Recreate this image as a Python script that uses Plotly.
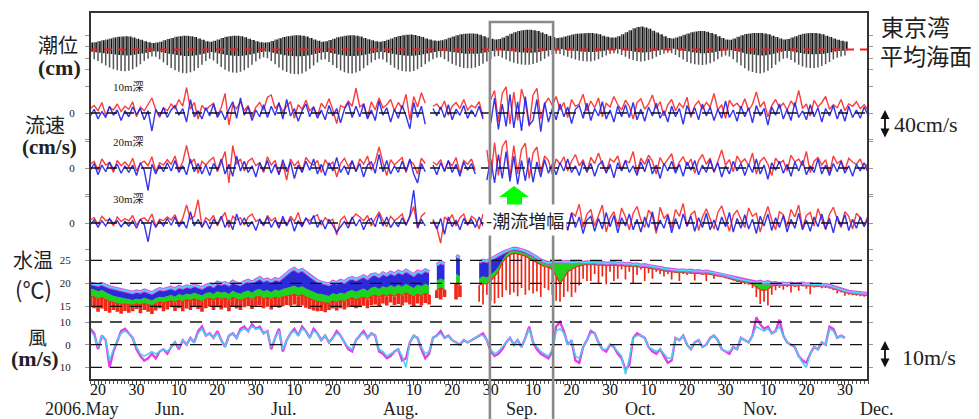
import plotly.graph_objects as go
import pandas as pd

START = "2006-05-18"

# ---------------- data ----------------
# daily tide envelope at Tokyo Bay (cm, relative to mean sea level), May 18 - Nov 30
TIDE_HIGH = [30,32,36,40,44,48,52,55, 57,58,56,52,47,42,36,32, 28,30,34,40,46,50,55,58,
             60,60,58,54,48,42, 36,34,38,44,50,55,58, 60,60,58,53,47,41,36,32,
             30,32,37,43,49,54,58,60, 62,62,60,56,50,44,38, 34,36,41,47,53,57,60,
             62,62,60,56,50,45,40,36, 34,37,42,48,54,59,62, 64,65,63,59,54,48,43,39,
             38,40,45,51,57,62,66,68, 70,70,68,64,58,52,47, 44,46,52,60,68,75,80,84,
             86,86,84,80,74,67,60,54, 50,52,56,61,65,68,70,71, 72,72,70,66,60,55,52,
             52,58,66,75,84,92, 98,100,96,90,82,74,66,58, 50,48,52,58,64,70,75,78,
             80,80,77,72,66,58,50, 44,42,48,55,62,67,70,72, 72,72,70,66,60,54,48,
             44,46,52,58,64,68,71, 72,72,70,66,60,54,48,42,38,35]
TIDE_LOW = [-35,-42,-50,-60,-70,-78,-86,-90, -94,-95,-92,-86,-76,-64,-50,-40,
            -30,-32,-42,-55,-68,-80,-90,-97, -102,-103,-99,-92,-80,-66,
            -50,-40,-48,-62,-76,-88,-96, -100,-101,-97,-90,-79,-66,-52,-40,
            -34,-38,-50,-64,-78,-90,-98,-104, -107,-108,-104,-96,-84,-70,-56,
            -45,-42,-54,-67,-80,-91,-99, -103,-104,-100,-93,-82,-70,-57,-46,
            -40,-44,-55,-67,-79,-88,-94, -96,-97,-93,-86,-76,-64,-52,-42,
            -36,-34,-42,-52,-62,-70,-76,-80, -82,-82,-78,-72,-62,-52,-42,
            -30,-28,-36,-44,-52,-58,-62,-65, -66,-66,-63,-58,-50,-40,-30,-22,
            -18,-20,-26,-32,-38,-44,-48,-50, -52,-52,-48,-42,-34,-26,-20,
            -16,-18,-24,-32,-40,-46, -50,-52,-50,-46,-40,-32,-24,-18,
            -14,-16,-24,-34,-44,-54,-60,-64, -66,-67,-65,-60,-52,-42,-32,
            -26,-30,-42,-56,-70,-82,-92,-98, -102,-104,-100,-92,-80,-66,-52,
            -40,-38,-46,-56,-66,-74,-78, -80,-81,-78,-72,-64,-54,-44,-36,-30,-26]
# the higher of the two daily low waters (cm)
TIDE_LOW2 = [-10,-12,-14,-16,-18,-20,-22,-24, -25,-26,-25,-23,-20,-17,-14,-11,
             -8,-9,-12,-15,-18,-21,-24,-26, -28,-28,-27,-25,-22,-18,
             -14,-11,-13,-17,-21,-24,-26, -27,-28,-27,-25,-22,-18,-14,-11,
             -9,-10,-14,-18,-22,-25,-27,-28, -29,-29,-28,-26,-23,-19,-15,
             -12,-11,-15,-19,-22,-25,-27, -28,-28,-27,-25,-22,-19,-15,-12,
             -10,-12,-15,-19,-22,-24,-26, -27,-27,-26,-24,-21,-17,-14,-11,
             -8,-6,-8,-10,-12,-14,-16,-18, -19,-19,-18,-16,-13,-10,-7,
             -4,-2,-4,-6,-8,-10,-12,-13, -14,-14,-13,-11,-8,-5,-2,0,
             2,1,-1,-3,-5,-7,-9,-10, -11,-11,-10,-8,-5,-2,0,
             2,1,-1,-4,-7,-10, -12,-13,-12,-10,-7,-4,-1,2,
             4,3,0,-3,-6,-9,-12,-14, -16,-16,-15,-13,-10,-7,-4,
             -2,-3,-6,-10,-14,-18,-21,-23, -25,-26,-25,-22,-18,-14,-10,
             -7,-6,-9,-12,-15,-18,-20, -21,-21,-20,-18,-15,-12,-9,-7,-5,-4]

# daily current speed components (cm/s), May 18 - Dec 6
CUR10_RED = [6,10,3,14,-3,8,4,12,2,9, 5,15,-5,8,3,11,20,4,-6,7, 3,12,6,18,9,34,5,14,-8,10,
             4,9,13,-4,7,26,-16,11,6,15, 3,10,-5,8,14,4,21,24,6,12, 2,9,15,-7,11,5,17,3,8,-4,
             13,6,19,4,-14,10,7,16,9,33, 8,12,-6,15,4,20,7,11,18,3, 14,6,25,-9,22,8,27,13,None,9,
             12,5,16,-3,9,14,6,18,4,10, 7,15,-5,None,18,30,-12,26,35,-15, 28,-10,32,14,-18,24,33,-8,12,20,
             10,22,4,14,-6,18,9,12,25,3, 16,7,20,-5,13,8,22,11,4,17, 9,-8,14,19,5,12,24,6,15,-4,
             11,18,3,13,7,21,-6,10,16,5, 14,8,26,4,11,-7,17,9,13,6, 19,3,12,28,8,15,-5,10,18,7,
             13,4,16,9,30,6,12,-4,17,8, 14,22,5,11,7,18,3,12,9,15, 6,11,4]
CUR10_BLUE = [-4,5,-8,2,-6,9,-3,4,-10,3, -5,8,-2,6,-9,3,-24,5,-4,7, -6,4,10,-3,6,-12,18,-5,3,-8,
              7,-4,12,-6,3,-9,5,15,-7,20, -3,8,-10,4,-5,11,-6,9,-3,14, -8,18,-4,6,-11,3,12,-5,8,-7,
              4,-9,10,-4,6,-13,5,14,-6,9, -5,12,-8,4,-10,16,-3,7,-12,5, -7,10,-4,-21,14,-6,9,-15,None,6,
              -4,8,-6,11,-9,5,-3,10,-7,4, -5,9,-8,None,-14,20,-22,12,-18,25, -20,15,-24,22,-16,-10,18,-25,14,-12,
              6,-9,12,-5,8,-14,5,10,-7,13, -10,6,-4,15,-8,4,-12,9,-5,11, -6,14,-9,5,-11,8,-4,13,-7,3,
              -12,9,-5,6,-15,10,-3,7,-9,12, -4,8,-10,5,-7,16,-6,4,-11,9, -5,7,-13,10,-4,6,-16,8,-3,12,
              -8,5,-10,14,-6,3,-9,11,-5,7, -12,6,-4,10,-8,5,-11,9,-6,4, -7,8,-3]
CUR20_RED = [5,9,-3,12,4,7,-6,10,3,8, 2,13,-4,6,9,3,15,-5,7,4, 11,5,16,-3,8,30,6,12,-7,9,
             4,10,14,-5,7,22,-20,30,5,12, -4,9,13,3,7,-6,15,4,10,-8, 6,-16,12,3,9,-5,14,7,4,10,
             -6,11,3,8,-12,6,13,2,9,-4, 12,5,16,-3,8,28,7,-10,11,4, 9,14,-6,10,5,-8,13,6,None,8,
             4,11,-5,9,3,14,-7,10,5,12, -3,None,None,24,-15,34,-10,28,37,-12, 30,-8,25,33,-14,20,28,-6,16,10,
             -8,12,5,15,-4,9,18,3,11,-6, 14,6,20,4,-5,12,8,16,-3,10, 7,22,-6,13,5,17,9,-8,14,4,
             11,19,-4,8,15,3,12,-7,10,18, 5,13,-6,9,24,4,11,-5,16,7, 12,3,20,-8,9,14,5,-10,13,6,
             10,-4,17,8,12,3,22,-6,9,14, 4,11,-7,16,6,10,-3,13,8,5, 12,-2,7]
CUR20_BLUE = [-3,6,-9,4,-5,8,-2,5,-7,3, -6,4,-10,7,-3,-30,5,-8,4,-5, 7,-4,10,-6,3,-9,12,-5,6,-8,
              4,-10,6,-3,12,-8,5,-11,16,-4, 9,-6,3,-12,7,-4,10,-7,5,-9, 11,-5,8,-14,4,-6,9,-3,12,-8,
              5,-10,7,-4,14,-6,3,-9,10,-5, 6,-12,4,8,-7,18,-5,10,-8,3, -6,9,-4,12,-8,-20,6,-5,None,4,
              -9,7,-4,10,-6,5,-11,8,-3,6, -8,None,None,-16,12,-20,18,-14,22,-18, 16,-22,10,-17,14,-19,8,-12,11,-7,
              5,-9,7,-4,12,-6,3,-10,8,-5, 6,-11,4,9,-7,5,-13,7,-4,10, -6,3,-10,8,-5,12,-8,4,-14,6,
              -4,9,-7,5,-11,8,-3,10,-9,4, -6,11,-5,7,-12,3,-8,9,-4,6, -10,5,-6,12,-8,4,-15,7,-3,9,
              -7,5,-11,8,-4,10,-9,3,-6,12, -8,4,-10,6,-5,9,-7,3,-11,5, -4,7,-6]
CUR30_RED = [4,7,-2,9,3,5,-4,8,2,6, 3,10,-3,5,7,2,12,-4,5,3, 8,4,11,-2,6,24,5,9,31,-5,
             7,3,10,-4,6,14,-6,9,4,7, -3,8,12,2,5,-4,10,3,7,-5, 5,-3,9,2,14,-4,6,3,8,11,
             -3,7,2,5,-16,4,9,-2,6,12, 8,3,10,-4,6,15,4,-5,9,3, 7,12,-3,8,22,-6,9,14,None,5,
             -6,-27,8,3,11,-4,7,12,-3,9, 5,-8,12,None,8,-5,14,6,-9,10, 15,-6,9,12,-4,8,18,-7,11,6,
             16,-8,22,5,-10,14,9,25,-6,12, 18,-4,10,24,-12,7,15,-5,20,8, -9,13,22,4,-6,17,10,-14,21,6,
             12,-7,18,9,26,-5,11,16,-10,8, 19,4,-8,14,23,6,-11,10,17,5, -6,20,9,13,-12,7,22,4,-9,15,
             11,-5,18,8,24,-7,10,14,-4,19, 6,-9,12,21,5,-6,15,9,-8,13, 7,-4,10]
CUR30_BLUE = [-2,4,-6,3,-4,6,-1,3,-5,2, -4,3,-7,5,-2,-25,4,-6,3,-4, 6,-3,8,-5,2,-7,15,-4,5,-6,
              3,-8,5,-2,9,-6,4,-9,12,-3, 7,-5,2,-10,5,-3,8,-6,4,-7, 9,-4,6,-11,3,-5,7,-2,10,-6,
              4,-8,5,-3,-12,-5,2,-7,8,-4, 5,-9,3,6,-5,12,-4,8,-6,2, -5,7,-3,10,44,-7,5,-4,None,3,
              -8,6,-15,8,-5,4,-9,6,-2,5, -6,8,-4,None,-10,12,-8,10,-12,14, -11,9,-14,12,-8,10,-13,7,-9,6,
              -7,10,-12,5,-9,13,-6,8,-14,4, 9,-11,6,-8,14,-5,10,-13,7,-4, 12,-9,5,-12,8,-6,15,-10,4,-7,
              10,-13,6,-8,12,-4,9,-11,7,-6, 13,-9,4,-10,8,-5,14,-12,6,-7, 11,-8,5,-14,9,-4,12,-10,7,-6,
              10,-12,5,-7,13,-9,4,-11,8,-5, 12,-8,6,-13,9,-4,11,-10,5,-7, 8,-5,6]

# daily water temperature layers (deg C), May 18 - Dec 6
TEMP_TOP = [20.0,19.8,19.6,19.9,19.5,19.2,19.0,18.8,18.6,18.4, 18.2,18.0,18.3,18.1,18.5,18.2,17.9,18.4,18.8,18.6,
            18.9,19.1,18.7,19.3,19.0,19.4,19.2,19.6,19.3,19.0, 19.5,19.8,19.4,20.2,19.9,20.1,19.7,20.4,20.0,19.8,
            20.3,20.6,20.2,20.8,21.2,20.6,20.9,20.4,21.0,20.7, 21.4,22.0,22.8,23.2,22.6,23.0,22.4,21.6,21.0,20.5,
            20.2,20.0,19.8,20.4,20.1,20.6,20.3,20.9,21.2,20.8, 21.3,21.6,21.1,21.8,22.0,21.5,22.2,21.8,22.4,22.0,
            22.6,22.2,22.8,22.4,21.8,22.6,22.3,22.9,22.5,None, 24.0,24.6,24.2,None,None,26.0,25.6,None,None,None,
            None,24.6,25.0,24.8,25.3,25.8,26.2,26.6,27.0,27.4, 27.6,27.5,27.3,27.0,26.6,26.2,25.6,25.0,24.6,24.4,
            24.6,24.7,24.8,24.6,24.7,24.5,24.6,24.7,24.5,24.6, 24.5,24.6,24.4,24.5,24.3,24.4,24.5,24.3,24.4,24.2,
            24.3,24.1,24.2,23.9,24.0,23.8,23.7,23.5,23.4,23.2, 23.1,23.0,22.9,22.8,22.9,22.7,22.8,22.6,22.7,22.5,
            22.6,22.4,22.3,22.1,22.0,21.8,21.6,21.3,21.0,20.8, 20.6,20.5,20.3,20.2,20.4,20.1,20.3,20.0,20.1,19.9,
            20.0,19.9,20.0,19.8,19.9,20.0,19.8,19.9,19.7,19.8, 19.6,19.7,19.5,19.2,18.9,18.6,18.4,18.2,18.1,18.0,
            17.9,17.8,17.7]
TEMP_BLUE_LO = [18.8,18.6,18.2,18.5,18.0,17.6,17.2,17.0,16.8,16.6, 16.5,16.3,16.6,16.4,16.8,16.5,16.2,16.7,17.0,16.9,
                17.2,17.4,17.0,17.6,17.3,17.7,17.5,17.9,17.6,17.3, 17.8,18.0,17.6,18.2,17.9,18.1,17.6,18.3,17.9,17.7,
                18.1,18.4,17.9,18.5,18.7,18.2,18.5,18.0,18.6,18.3, 18.7,18.9,19.2,19.4,19.0,19.3,18.8,18.4,18.0,17.7,
                17.6,17.4,17.2,17.8,17.5,17.9,17.7,18.2,18.5,18.1, 18.5,18.8,18.3,19.0,19.2,18.7,19.3,19.0,19.5,19.1,
                19.6,19.2,19.8,19.4,18.9,19.6,19.3,19.8,19.5,None, 20.5,21.0,20.6,None,None,22.0,21.5,None,None,None,
                None,21.0,21.5,21.2,21.8,22.5,23.5,25.0,26.2,26.8, 27.0,26.9,26.7,26.4,26.0,25.6,25.1,24.6,24.2,24.0,
                24.2,24.3,24.4,24.3,24.4,24.2,24.3,24.4,24.2,24.3, 24.1,24.2,24.0,24.1,23.9,24.0,24.1,23.9,24.0,23.8,
                23.9,23.7,23.8,23.5,23.6,23.4,23.3,23.1,23.0,22.8, 22.7,22.6,22.5,22.4,22.5,22.3,22.4,22.2,22.3,22.1,
                22.2,22.0,21.9,21.7,21.6,21.4,21.2,20.9,20.6,20.4, 20.2,20.1,19.9,19.8,19.9,19.7,19.8,19.6,19.7,19.6,
                19.7,19.6,19.7,19.5,19.6,19.7,19.5,19.6,19.4,19.5, 19.3,19.4,19.2,18.9,18.6,18.3,18.1,17.9,17.8,17.7,
                17.6,17.5,17.4]
TEMP_GREEN_LO = [17.2,17.0,16.6,16.9,16.4,16.0,15.8,15.6,15.4,15.5, 15.3,15.2,15.5,15.3,15.6,15.4,15.1,15.6,15.9,15.7,
                 16.0,16.2,15.8,16.3,16.0,16.4,16.2,16.6,16.3,16.0, 16.5,16.7,16.3,16.8,16.5,16.7,16.2,16.9,16.5,16.3,
                 16.6,16.9,16.4,17.0,17.1,16.6,16.9,16.4,17.0,16.7, 17.0,17.2,17.4,17.6,17.2,17.5,17.0,16.6,16.3,16.0,
                 15.9,15.7,15.6,16.1,15.8,16.2,16.0,16.5,16.8,16.4, 16.7,17.0,16.5,17.2,17.4,16.9,17.5,17.1,17.6,17.2,
                 17.7,17.3,17.9,17.5,17.0,17.6,17.3,17.8,17.5,None, 18.5,19.0,18.6,None,None,20.0,19.5,None,None,None,
                 None,19.5,20.0,19.8,20.5,21.5,22.5,24.5,25.5,26.2, 26.5,26.4,26.2,25.9,25.4,25.0,24.5,24.0,23.6,23.5,
                 23.0,21.5,20.0,21.0,22.5,23.0,23.5,23.8,24.0,24.1, 24.0,24.1,23.9,24.0,23.8,23.9,24.0,23.8,23.9,23.7,
                 23.8,23.6,23.7,23.4,23.5,23.3,23.2,23.0,22.9,22.7, 22.6,22.5,22.4,22.3,22.4,22.2,22.3,22.1,22.2,22.0,
                 22.1,21.9,21.8,21.6,21.5,21.3,21.1,20.8,20.5,20.3, 20.1,20.0,19.8,19.2,18.6,18.4,18.7,19.3,19.6,19.5,
                 19.6,19.5,19.6,19.4,19.5,19.6,19.4,19.5,19.3,19.4, 19.2,19.3,19.1,18.8,18.5,18.2,18.0,17.8,17.7,17.6,
                 17.5,17.4,17.3]
TEMP_RED_LO = [15.0,14.6,13.8,14.5,14.0,13.6,14.2,13.8,13.4,14.0, 13.6,13.9,14.4,13.5,14.2,13.8,13.3,14.1,14.6,13.9,
               14.3,14.8,14.0,14.6,13.9,14.5,14.2,14.8,14.4,13.8, 14.6,14.9,14.2,14.8,14.3,14.7,13.9,14.9,14.5,14.2,
               14.8,15.0,14.4,15.1,15.2,14.6,14.9,14.3,15.0,14.7, 15.0,15.3,15.1,15.4,14.9,15.2,14.7,14.4,14.1,13.9,
               14.0,13.7,14.2,14.5,14.1,14.6,14.3,14.8,15.0,14.6, 14.8,15.1,14.6,15.3,15.4,14.9,15.6,15.2,15.8,15.3,
               15.5,15.2,15.8,15.4,15.0,15.6,15.2,15.7,15.4,None, 16.8,16.5,17.0,None,None,16.5,17.0,None,None,None,
               None,16.0,15.4,17.5,16.2,15.6,16.8,17.0,18.5,17.5, 18.0,17.2,19.0,17.5,18.5,17.8,18.2,17.0,19.0,18.5,
               17.5,16.2,16.0,17.0,18.2,17.0,18.0,19.5,21.0,20.5, 20.5,22.0,20.0,21.5,19.8,22.5,20.5,21.0,23.0,20.8,
               22.5,20.0,21.8,23.0,20.5,22.2,21.0,22.5,22.0,21.5, 22.0,20.8,22.3,20.5,22.0,21.8,22.0,20.6,22.0,21.8,
               20.5,21.8,21.0,21.5,21.3,21.1,20.9,20.6,20.3,20.0, 19.8,19.7,19.0,17.0,15.5,16.0,15.2,17.5,18.5,19.0,
               18.6,19.2,18.0,19.2,18.4,19.3,18.8,17.6,19.1,19.2, 18.9,19.0,18.8,18.5,17.8,18.0,17.3,17.5,17.4,17.3,
               17.2,17.1,17.0]

# daily wind (m/s), May 18 - Nov 30, two records
WIND_M = [7,5,-2,4,2,-10,-3,2,6,7, 5,3,-2,-5,-7,-6,-4,-6,-3,-2, -4,-1,1,-2,2,0,3,1,6,8,
          4,5,3,6,2,-1,4,5,3,7, 8,6,9,7,8,5,6,-2,3,7, -3,2,5,7,4,8,6,3,7,5,
          2,4,1,3,6,4,1,-2,-3,2, 4,6,3,5,4,-3,-4,-6,-5,-3, -2,-7,-6,1,4,3,-2,-6,-4,3,
          4,6,3,4,2,1,0,2,1,2, 3,4,5,2,-3,-5,-4,-2,1,3, 0,2,-1,3,8,1,-2,-4,-5,-6,
          -3,8,10,6,0,2,-7,-8,-1,2, 6,5,1,-2,-3,0,-1,-4,-6,-11, -9,3,5,4,3,-1,-3,-4,-2,-5,
          -8,-7,3,2,4,0,-2,1,2,-1, 0,3,4,2,-2,-3,-4,-1,-2,3, 2,1,4,12,9,7,8,5,6,11,
          4,1,0,-1,-5,-7,-8,-4,-1,-2, 1,0,8,7,3,4,3]
WIND_C = [6,4,-1,4,2,-7,-2,2,5,6, 5,3,-1,-4,-5,-4,-3,-4,-3,-2, -3,-1,1,-1,2,0,3,1,5,7,
          4,5,3,5,2,-1,4,5,3,6, 7,6,8,7,7,5,6,-1,3,6, -2,2,5,6,4,7,6,3,6,5,
          2,4,1,3,5,4,1,-1,-2,2, 4,5,3,5,4,-2,-3,-5,-4,-3, -2,-5,-10,1,4,3,-1,-4,-3,3,
          4,5,3,4,2,1,0,2,1,2, 3,4,4,2,-2,-4,-3,-1,1,3, 0,2,-1,3,7,1,-1,-3,-4,-5,
          -2,6,7,5,0,2,-5,-6,-1,2, 5,5,1,-2,-2,0,-1,-3,-5,-13, -6,3,4,4,3,-1,-2,-3,-2,-4,
          -6,-6,3,2,4,0,-2,1,2,-1, 0,3,4,2,-2,-3,-3,-1,-2,3, 2,1,4,8,7,6,7,5,6,8,
          4,1,0,-1,-5,-8,-10,-4,-1,-2, 1,0,7,6,3,4,3]

TICK_DATES = ["2006-05-20", "2006-05-30", "2006-06-10", "2006-06-20", "2006-06-30",
              "2006-07-10", "2006-07-20", "2006-07-30", "2006-08-10", "2006-08-20",
              "2006-08-30", "2006-09-10", "2006-09-20", "2006-09-30", "2006-10-10",
              "2006-10-20", "2006-10-30", "2006-11-10", "2006-11-20", "2006-11-30"]
TICK_TEXT = ["20", "30", "10", "20", "30", "10", "20", "30", "10", "20",
             "30", "10", "20", "30", "10", "20", "30", "10", "20", "30"]
MONTH_LABELS = ["2006.May", "Jun.", "Jul.", "Aug.", "Sep.", "Oct.", "Nov.", "Dec."]
DEPTH_LABELS = ["10m深", "20m深", "30m深"]
HIGHLIGHT = ("2006-08-29 19:00", "2006-09-15 05:00")
THIN_FROM = "2006-08-26"   # from here the deep layer shows as thin cold streaks

# ---------------- geometry helpers (layout only) ----------------
# the page body has an 8px margin, so the figure is 8px smaller than the window
BODY = 8
W, H = 979 - BODY, 419 - BODY
PL, PR, PT, PB = 90, 868, 12, 380   # plot frame in window pixels


def fx(px):
    return (px - PL) / (PR - PL)


def fy(py):
    return (PB - py) / (PB - PT)


def dom(ref_val, ref_px, ppu, lo, hi):
    return [fy(ref_px + (ref_val - lo) * ppu), fy(ref_px - (hi - ref_val) * ppu)]


SERIF = "Liberation Serif, Noto Sans CJK JP, serif"
CJK = "Noto Sans CJK JP, sans-serif"

fig = go.Figure()

# ---- tide bars ----
tide_dates = pd.date_range(START, periods=len(TIDE_HIGH), freq="D")
tx, ty = [], []
for d, lo, hi in zip(tide_dates, TIDE_LOW, TIDE_HIGH):
    tx += [d, d, None]
    ty += [lo, hi, None]
fig.add_trace(go.Scatter(x=tx, y=ty, mode="lines", yaxis="y",
                         line=dict(color="#555555", width=1.5), hoverinfo="skip"))
tx2, ty2 = [], []
for d, lo, hi in zip(tide_dates, TIDE_LOW2, TIDE_HIGH):
    dd = d + pd.Timedelta(hours=12)
    tx2 += [dd, dd, None]
    ty2 += [lo, hi, None]
fig.add_trace(go.Scatter(x=tx2, y=ty2, mode="lines", yaxis="y",
                         line=dict(color="#111111", width=1.6), hoverinfo="skip"))

# ---- currents ----
for red, blue, yax in [(CUR10_RED, CUR10_BLUE, "y2"), (CUR20_RED, CUR20_BLUE, "y3"),
                       (CUR30_RED, CUR30_BLUE, "y4")]:
    dr = pd.date_range(START, periods=len(red), freq="D")
    db = pd.date_range(START, periods=len(blue), freq="D")
    fig.add_trace(go.Scatter(x=dr, y=red, mode="lines", yaxis=yax,
                             line=dict(color="rgba(250,40,40,0.9)", width=1.4), hoverinfo="skip"))
    fig.add_trace(go.Scatter(x=db, y=blue, mode="lines", yaxis=yax,
                             line=dict(color="rgba(30,30,235,0.9)", width=1.4), hoverinfo="skip"))

# ---- water temperature ----
n_t = min(len(TEMP_TOP), len(TEMP_BLUE_LO), len(TEMP_GREEN_LO), len(TEMP_RED_LO))
temp_dates = pd.date_range(START, periods=n_t, freq="D")
segments, cur = [], []
for i in range(n_t):
    if TEMP_TOP[i] is None:
        if cur:
            segments.append(cur)
        cur = []
    else:
        cur.append(i)
if cur:
    segments.append(cur)

# deepest (red) layer as daily streaks from its minimum up to the next layer
thin_from = pd.Timestamp(THIN_FROM)
for thick in (True, False):
    rx, ry = [], []
    for i in range(n_t):
        if TEMP_RED_LO[i] is None or TEMP_GREEN_LO[i] is None:
            continue
        if (temp_dates[i] < thin_from) != thick:
            continue
        rx += [temp_dates[i], temp_dates[i], None]
        ry += [TEMP_RED_LO[i], TEMP_GREEN_LO[i], None]
    fig.add_trace(go.Scatter(x=rx, y=ry, mode="lines", yaxis="y5",
                             line=dict(color="#f02818", width=3.6 if thick else 1.7),
                             hoverinfo="skip"))

for seg in segments:
    xs = [temp_dates[i] for i in seg]
    fig.add_trace(go.Scatter(x=xs, y=[TEMP_GREEN_LO[i] for i in seg], mode="lines", yaxis="y5",
                             line=dict(color="#f02818", width=1.2), hoverinfo="skip"))
    for arr, col in [(TEMP_BLUE_LO, "#1ed21e"), (TEMP_TOP, "#2a2ad8")]:
        fig.add_trace(go.Scatter(x=xs, y=[arr[i] for i in seg], mode="lines", yaxis="y5",
                                 fill="tonexty", fillcolor=col,
                                 line=dict(color=col, width=0.6), hoverinfo="skip"))
fig.add_trace(go.Scatter(x=temp_dates, y=TEMP_TOP[:n_t], mode="lines", yaxis="y5",
                         line=dict(color="#d855e0", width=3.6), hoverinfo="skip"))
fig.add_trace(go.Scatter(x=temp_dates, y=TEMP_TOP[:n_t], mode="lines", yaxis="y5",
                         line=dict(color="#3fe3ff", width=1.4), hoverinfo="skip"))

# ---- wind ----
wd_m = pd.date_range(START, periods=len(WIND_M), freq="D")
wd_c = pd.date_range(START, periods=len(WIND_C), freq="D")
fig.add_trace(go.Scatter(x=wd_m, y=WIND_M, mode="lines", yaxis="y6",
                         line=dict(color="#e040e8", width=2.4), hoverinfo="skip"))
fig.add_trace(go.Scatter(x=wd_c, y=WIND_C, mode="lines", yaxis="y6",
                         line=dict(color="#45d0f0", width=1.5), hoverinfo="skip"))

# ---------------- axes ----------------
ycommon = dict(showgrid=False, zeroline=False, showline=False, anchor="x",
               ticks="outside", ticklen=4, tickcolor="#999",
               tickfont=dict(family=SERIF, size=11, color="#222"))
TIDE_RANGE = [-160, 150]
CUR_RANGE = [-46, 46]
TEMP_RANGE = [12.5, 28.2]
WIND_RANGE = [-14, 14]

fig.update_layout(
    width=W, height=H,
    margin=dict(l=PL - BODY, r=W - (PR - BODY), t=PT - BODY, b=H - (PB - BODY)),
    paper_bgcolor="white", plot_bgcolor="rgba(0,0,0,0)",
    showlegend=False,
    font=dict(family=SERIF, color="#222"),
    xaxis=dict(type="date", range=["2006-05-17 22:00", "2006-12-06 00:00"],
               anchor="free", position=0, showgrid=False, zeroline=False, showline=False,
               tickmode="array", tickvals=TICK_DATES, ticktext=TICK_TEXT,
               ticks="outside", ticklen=4, tickcolor="#333", ticklabelstandoff=-9,
               tickfont=dict(family=SERIF, size=16, color="#111"),
               minor=dict(tickmode="linear", tick0="2006-05-18", dtick=86400000,
                          ticks="outside", ticklen=3, tickcolor="#555")),
    yaxis=dict(domain=dom(0, 49.5, 0.23, *TIDE_RANGE), range=TIDE_RANGE,
               tickvals=[-87, -37, 13, 63], showticklabels=False, mirror="ticks", **ycommon),
    yaxis2=dict(domain=dom(0, 113, 0.75, *CUR_RANGE), range=CUR_RANGE,
                tickvals=[-35, 0, 35], ticktext=["", "0", ""], ticklabelstandoff=8,
                mirror="ticks", **ycommon),
    yaxis3=dict(domain=dom(0, 168, 0.75, *CUR_RANGE), range=CUR_RANGE,
                tickvals=[-35, 0, 35], ticktext=["", "0", ""], ticklabelstandoff=8,
                mirror="ticks", **ycommon),
    yaxis4=dict(domain=dom(0, 223, 0.75, *CUR_RANGE), range=CUR_RANGE,
                tickvals=[-35, 0, 35], ticktext=["", "0", ""], ticklabelstandoff=8,
                mirror="ticks", **ycommon),
    yaxis5=dict(domain=dom(20, 283.3, 4.6, *TEMP_RANGE), range=TEMP_RANGE,
                tickvals=[15, 20, 25], ticktext=["15", "20", "25"], ticklabelstandoff=12,
                mirror="ticks", **ycommon),
    yaxis6=dict(domain=dom(0, 344.7, 2.27, *WIND_RANGE), range=WIND_RANGE,
                tickvals=[-10, 0, 10], ticktext=["10", "0", "10"], ticklabelstandoff=12,
                mirror="ticks", **ycommon),
)

# ---------------- reference lines, frame, highlight box ----------------
shapes = []
shapes.append(dict(type="line", xref="paper", x0=0, x1=1, yref="y", y0=0, y1=0, layer="above",
                   line=dict(color="#ff1a1a", width=1.8, dash="8px,6px")))
for yax in ["y2", "y3", "y4"]:
    shapes.append(dict(type="line", xref="paper", x0=0, x1=1, yref=yax, y0=0, y1=0, layer="above",
                       line=dict(color="#111", width=1.4, dash="10px,7px")))
for v in [15, 20, 25]:
    shapes.append(dict(type="line", xref="paper", x0=0, x1=1, yref="y5", y0=v, y1=v, layer="above",
                       line=dict(color="#111", width=1.3, dash="12px,8px")))
for v in [-10, 0, 10]:
    shapes.append(dict(type="line", xref="paper", x0=0, x1=1, yref="y6", y0=v, y1=v, layer="above",
                       line=dict(color="#111", width=1.3, dash="12px,8px")))
shapes.append(dict(type="rect", xref="paper", yref="paper", x0=0, x1=1, y0=0, y1=1, layer="above",
                   line=dict(color="#333", width=2)))
shapes.append(dict(type="rect", xref="x", yref="paper", x0=HIGHLIGHT[0], x1=HIGHLIGHT[1],
                   y0=fy(430), y1=fy(22), layer="above", line=dict(color="#8a8a8a", width=2.6)))
arrow_pts = [(514, 186), (529, 197), (522, 197), (522, 206), (507, 206), (507, 197), (499, 197)]
path = "M " + " L ".join(f"{fx(a):.5f},{fy(b):.5f}" for a, b in arrow_pts) + " Z"
shapes.append(dict(type="path", xref="paper", yref="paper", path=path, layer="above",
                   fillcolor="#00ff00", line=dict(color="#00ff00", width=0)))
fig.update_layout(shapes=shapes)

# ---------------- annotations ----------------
ann = []


def label(text, px, py, size, family=SERIF, xanchor="center", weight="normal", **kw):
    ann.append(dict(text=text, xref="paper", yref="paper", x=fx(px), y=fy(py),
                    xanchor=xanchor, yanchor="middle", showarrow=False,
                    font=dict(family=family, size=size, color="#222", weight=weight), **kw))


label("潮位", 58, 44, 20, CJK)
label("(cm)", 59, 67, 22, SERIF, weight="bold")
label("流速", 45, 124, 20, CJK)
label("(cm/s)", 49, 147, 21, SERIF, weight="bold")
label("水温", 33, 259, 20, CJK)
label("(℃)", 33, 288, 22, CJK)
label("風", 37, 336, 19, CJK)
label("(m/s)", 35, 358, 22, SERIF, weight="bold")
for t, py in zip(DEPTH_LABELS, [87, 142, 199]):
    label(t, 128, py, 11, SERIF)
label("東京湾", 879, 26, 23, CJK, xanchor="left")
label("平均海面", 878, 55, 23, CJK, xanchor="left")
label("40cm/s", 892, 125, 22, SERIF, xanchor="left")
label("10m/s", 900, 357, 22, SERIF, xanchor="left")
label("-潮流増幅", 525, 220, 18, CJK, bgcolor="white", borderpad=2)
for t, px in zip(MONTH_LABELS, [82, 170, 284, 401, 522, 640, 760, 876]):
    label(t, px, 409, 18, SERIF)

for py0, py1 in [(110, 139), (341, 369)]:
    ann.append(dict(text="", xref="paper", yref="paper", x=fx(885), y=fy(py0),
                    ax=0, ay=py1 - py0, axref="pixel", ayref="pixel",
                    showarrow=True, arrowhead=2, arrowside="end+start", arrowsize=1,
                    arrowwidth=1.8, arrowcolor="#111", standoff=0, startstandoff=0))
fig.update_layout(annotations=ann)

fig.write_html("out.html")
